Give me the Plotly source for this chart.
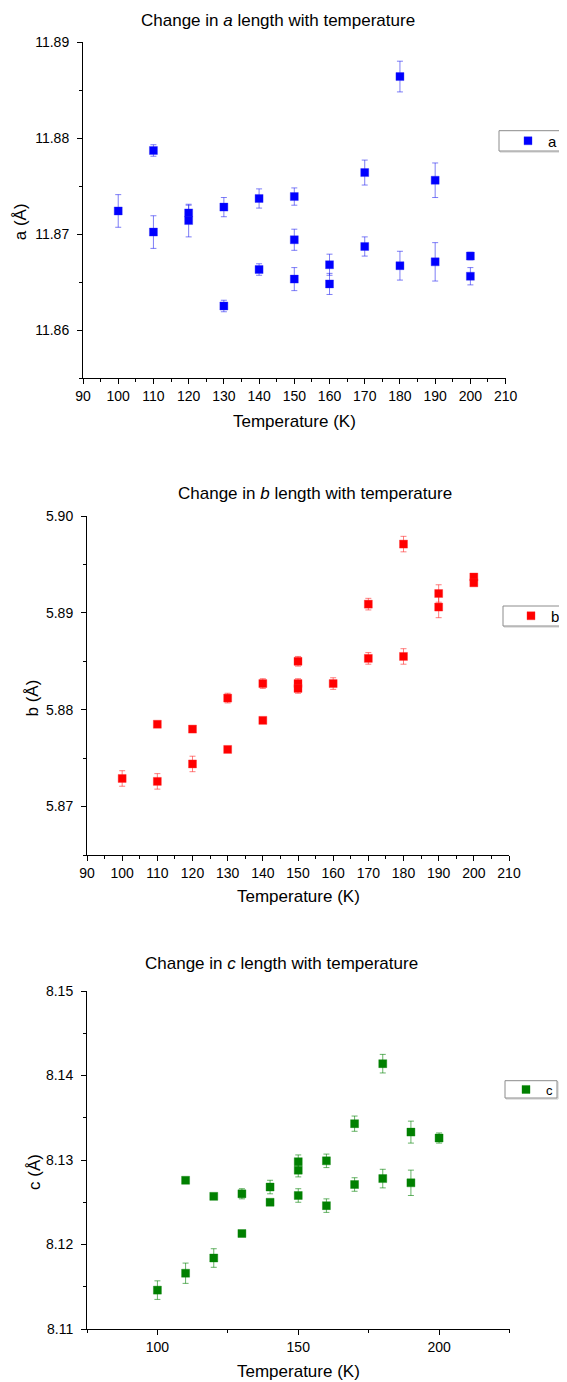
import plotly.graph_objects as go

# The page body has an 8px default margin, so the figure is drawn 8px in from the window corner.
OFF = 8
W, H = 567 - OFF, 1382 - OFF

# ---------------- data ----------------
T_a = [100, 110, 110, 120, 120, 130, 130, 140, 140, 150, 150, 150, 160, 160, 170, 170, 180, 180, 190, 190, 200, 200]
a_vals = [11.8724, 11.8787, 11.8702, 11.8722, 11.8714, 11.8728, 11.8625, 11.8737, 11.8663, 11.8739, 11.8694,
          11.8653, 11.8668, 11.8648, 11.8764, 11.8687, 11.8864, 11.8667, 11.8756, 11.8671, 11.8677, 11.8656]
a_err = [0.0017, 0.0006, 0.0017, 0.0008, 0.0017, 0.0010, 0.0006, 0.0010, 0.0006, 0.0009, 0.0011,
         0.0012, 0.0011, 0.0011, 0.0013, 0.0010, 0.0016, 0.0015, 0.0018, 0.0020, 0.0004, 0.0009]

T_b = [100, 110, 110, 120, 120, 130, 130, 140, 140, 150, 150, 150, 160, 170, 170, 180, 180, 190, 190, 200, 200]
b_vals = [5.8729, 5.8785, 5.8726, 5.8780, 5.8744, 5.8812, 5.8759, 5.8827, 5.8789, 5.8850, 5.8827,
          5.8822, 5.8827, 5.8909, 5.8853, 5.8971, 5.8855, 5.8920, 5.8906, 5.8937, 5.8931]
b_err = [0.0008, 0.0001, 0.0008, 0.0001, 0.0008, 0.0005, 0.0001, 0.0005, 0.0001, 0.0005, 0.0005,
         0.0005, 0.0006, 0.0006, 0.0006, 0.0008, 0.0008, 0.0009, 0.0011, 0.0002, 0.0002]

T_c = [100, 110, 110, 120, 120, 130, 130, 140, 140, 150, 150, 150, 160, 160, 170, 170, 180, 180, 190, 190, 200]
c_vals = [8.1146, 8.1276, 8.1166, 8.1257, 8.1184, 8.1260, 8.1213, 8.1268, 8.1250, 8.1298, 8.1288,
          8.1258, 8.1299, 8.1246, 8.1343, 8.1271, 8.1414, 8.1278, 8.1333, 8.1273, 8.1326]
c_err = [0.0011, 0.0001, 0.0012, 0.0001, 0.0011, 0.0006, 0.0001, 0.0008, 0.0001, 0.0008, 0.0008,
         0.0008, 0.0008, 0.0008, 0.0009, 0.0008, 0.0011, 0.0011, 0.0013, 0.0015, 0.0006]

titles = ["Change in <i>a</i> length with temperature",
          "Change in <i>b</i> length with temperature",
          "Change in <i>c</i> length with temperature"]
x_title = "Temperature (K)"
y_titles = ["a (Å)", "b (Å)", "c (Å)"]
series_names = ["a", "b", "c"]

FONT = "Arial, Liberation Sans, sans-serif"


def px_x(p):
    return (p - OFF) / W


def px_y(p):
    return 1 - (p - OFF) / H


fig = go.Figure()

specs = [
    (T_a, a_vals, a_err, "#0000FF", "rgba(40,40,240,0.6)", "x", "y", "legend"),
    (T_b, b_vals, b_err, "#FF0000", "rgba(255,40,40,0.6)", "x2", "y2", "legend2"),
    (T_c, c_vals, c_err, "#008000", "rgba(0,128,0,0.6)", "x3", "y3", "legend3"),
]
for (xs, ys, es, col, ecol, xa, ya, lg), name in zip(specs, series_names):
    fig.add_trace(go.Scatter(
        x=xs, y=ys, mode="markers", name=name,
        marker=dict(symbol="square", size=8, color=col, line=dict(width=0.6, color=ecol)),
        error_y=dict(type="data", array=es, visible=True, color=ecol, thickness=1, width=3),
        xaxis=xa, yaxis=ya, legend=lg, showlegend=True,
    ))


def axis(domain, rng, dtick, tick0, mdtick, fmt=None, anchor=None, standoff=None):
    d = dict(domain=domain, range=rng, dtick=dtick, tick0=tick0,
             showline=True, linecolor="black", linewidth=1,
             ticks="outside", ticklen=5, tickwidth=1, tickcolor="black",
             showgrid=False, zeroline=False, automargin=False,
             tickfont=dict(size=14, color="black", family=FONT),
             minor=dict(ticks="outside", ticklen=3, tickwidth=1, tickcolor="black",
                        dtick=mdtick, tick0=tick0, showgrid=False),
             anchor=anchor)
    if fmt:
        d["tickformat"] = fmt
    if standoff is not None:
        d["ticklabelstandoff"] = standoff
    return d


fig.update_layout(
    width=W, height=H,
    margin=dict(l=0, r=0, t=0, b=0, autoexpand=False),
    paper_bgcolor="white", plot_bgcolor="white",
    font=dict(family=FONT, color="black"),
    xaxis=axis([px_x(83), px_x(505.6)], [90, 210], 10, 0, 5, anchor="y"),
    yaxis=axis([px_y(378), px_y(42)], [11.855, 11.89], 0.01, 0, 0.005, ".2f", anchor="x", standoff=5),
    xaxis2=axis([px_x(87), px_x(509)], [90, 210], 10, 0, 5, anchor="y2"),
    yaxis2=axis([px_y(855), px_y(516)], [5.865, 5.90], 0.01, 0, 0.005, ".2f", anchor="x2", standoff=5),
    xaxis3=axis([px_x(87), px_x(509.5)], [75, 225], 50, 0, 25, anchor="y3"),
    yaxis3=axis([px_y(1329), px_y(991)], [8.11, 8.15], 0.01, 0, 0.005, ".2f", anchor="x3", standoff=5),
)

# legends: invisible plotly legend boxes placed inside drawn frames
leg_common = dict(bgcolor="rgba(0,0,0,0)", borderwidth=0,
                  xanchor="left", yanchor="middle", itemclick=False)
fig.update_layout(
    legend=dict(x=px_x(508), y=px_y(141), font=dict(size=15, family=FONT), **leg_common),
    legend2=dict(x=px_x(511), y=px_y(616), font=dict(size=15, family=FONT), **leg_common),
    legend3=dict(x=px_x(506), y=px_y(1089.5), font=dict(size=13, family=FONT), **leg_common),
)
frames = [(499, 130.7, 563, 151), (503, 606, 566.5, 626), (505, 1080.7, 557, 1098)]
shapes = []
for (x0, y0, x1, y1) in frames:
    shapes.append(dict(type="rect", xref="paper", yref="paper",
                       x0=px_x(x0 + 1), x1=px_x(x1 + 1), y0=px_y(y1 + 1), y1=px_y(y0 + 1),
                       line=dict(color="#c8c8c8", width=1), fillcolor="rgba(0,0,0,0)", layer="below"))
    shapes.append(dict(type="rect", xref="paper", yref="paper",
                       x0=px_x(x0), x1=px_x(x1), y0=px_y(y1), y1=px_y(y0),
                       line=dict(color="#8c8c8c", width=1), fillcolor="white", layer="below"))
fig.update_layout(shapes=shapes)

ann = []
for txt, (cx, cy) in zip(titles, [(277.8, 20.7), (315, 493.3), (281.6, 963)]):
    ann.append(dict(text=txt, x=px_x(cx), y=px_y(cy), xref="paper", yref="paper",
                    showarrow=False, xanchor="center", yanchor="middle",
                    font=dict(size=17, family=FONT, color="black")))
for (cx, cy) in [(294.7, 421), (298, 896.7), (298.6, 1371)]:
    ann.append(dict(text=x_title, x=px_x(cx), y=px_y(cy), xref="paper", yref="paper",
                    showarrow=False, xanchor="center", yanchor="middle",
                    font=dict(size=17, family=FONT, color="black")))
for txt, (cx, cy) in zip(y_titles, [(20.6, 221.7), (32.5, 698), (34.3, 1171.7)]):
    ann.append(dict(text=txt, x=px_x(cx), y=px_y(cy), xref="paper", yref="paper",
                    showarrow=False, xanchor="center", yanchor="middle", textangle=-90,
                    font=dict(size=17, family=FONT, color="black")))
fig.update_layout(annotations=ann)

fig.write_html("out.html")
